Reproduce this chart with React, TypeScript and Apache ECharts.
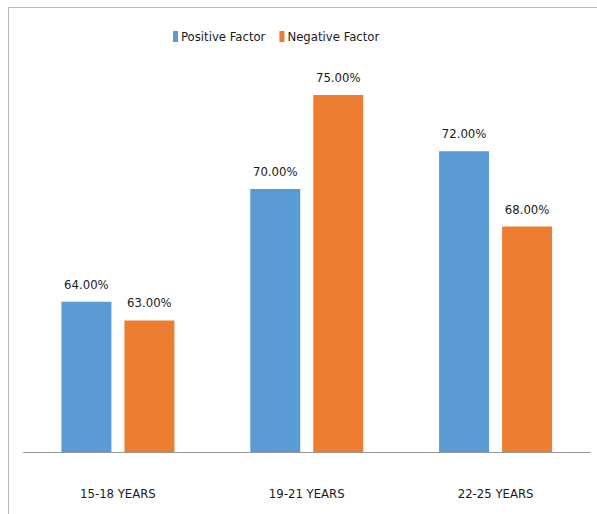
import React, { useEffect, useRef } from "react";
import * as echarts from "echarts";

const categories = ["15-18 YEARS", "19-21 YEARS", "22-25 YEARS"];
const positiveFactor = [64, 70, 72];
const negativeFactor = [63, 75, 68];

const FONT = "'DejaVu Sans Condensed', 'Liberation Sans Narrow', sans-serif";

export default function App() {
  const ref = useRef<HTMLDivElement>(null);
  useEffect(() => {
    document.body.style.margin = "0";
    const chart = echarts.init(ref.current!, null, { renderer: "svg" });
    const label = {
      show: true,
      position: "top" as const,
      distance: 11,
      formatter: (p: any) => p.value.toFixed(2) + "%",
      color: "#1a1a1a",
      fontSize: 13,
      fontFamily: FONT,
    };
    chart.setOption({
      animation: false,
      backgroundColor: "#fff",
      legend: {
        top: 25,
        left: 168,
        itemWidth: 5,
        itemHeight: 11,
        itemGap: 14,
        icon: "rect",
        textStyle: { fontSize: 13, fontFamily: FONT, color: "#1a1a1a", padding: [0, 0, 0, -2] },
        data: ["Positive Factor", "Negative Factor"],
      },
      grid: { left: 23.5, right: 7, top: 38.6, bottom: 62 },
      xAxis: {
        type: "category",
        data: categories,
        axisLine: { show: true, lineStyle: { color: "#999", width: 1 } },
        axisTick: { show: false },
        axisLabel: { fontSize: 13, fontFamily: FONT, color: "#1a1a1a", margin: 35 },
      },
      yAxis: {
        type: "value",
        min: 56,
        max: 78,
        show: false,
        splitLine: { show: false },
      },
      series: [
        {
          name: "Positive Factor",
          type: "bar",
          data: positiveFactor,
          itemStyle: { color: "#5B9BD5" },
          barWidth: 50,
          barGap: "26%",
          label,
        },
        {
          name: "Negative Factor",
          type: "bar",
          data: negativeFactor,
          itemStyle: { color: "#ED7D31" },
          barWidth: 50,
          label,
        },
      ],
      graphic: [
        { type: "line", shape: { x1: 8, y1: 7.5, x2: 597, y2: 7.5 }, style: { stroke: "#bbb", lineWidth: 1 } },
        { type: "line", shape: { x1: 8.5, y1: 7, x2: 8.5, y2: 514 }, style: { stroke: "#bbb", lineWidth: 1 } },
      ],
    });
    return () => chart.dispose();
  }, []);
  return <div ref={ref} style={{ width: 597, height: 514 }} />;
}
